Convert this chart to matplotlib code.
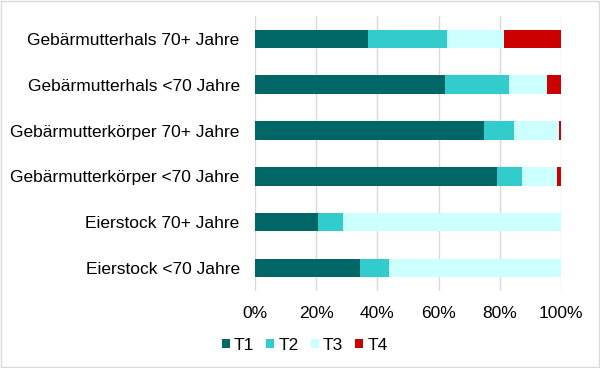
import matplotlib
matplotlib.use("Agg")
import matplotlib.pyplot as plt
import numpy as np
from matplotlib.patches import Rectangle
from matplotlib.ticker import FuncFormatter

# categories from top to bottom
categories = [
    "Gebärmutterhals 70+ Jahre",
    "Gebärmutterhals <70 Jahre",
    "Gebärmutterkörper 70+ Jahre",
    "Gebärmutterkörper <70 Jahre",
    "Eierstock 70+ Jahre",
    "Eierstock <70 Jahre",
]
t1 = [36.9, 62.2, 74.9, 79.2, 20.7, 34.2]
t2 = [26.0, 20.8, 9.7, 8.1, 8.0, 9.5]
t3 = [18.6, 12.3, 14.7, 11.3, 71.3, 56.3]
t4 = [18.5, 4.7, 0.7, 1.4, 0.0, 0.0]
series_names = ["T1", "T2", "T3", "T4"]
colors = ["#006666", "#33CCCC", "#CCFFFF", "#CC0000"]

plt.rcParams["font.family"] = ["Liberation Sans", "DejaVu Sans"]

fig = plt.figure(figsize=(6, 3.68), dpi=100)
ax = fig.add_axes([0.425, 0.209, 0.51, 0.748])

y = np.arange(len(categories))
left = np.zeros(len(categories))
for name, vals, col in zip(series_names, [t1, t2, t3, t4], colors):
    ax.barh(y, vals, left=left, height=0.4, color=col, label=name, zorder=2)
    left += np.array(vals)

ax.set_xlim(0, 100)
ax.set_ylim(len(categories) - 0.5, -0.5)
ax.set_yticks(y)
ax.set_yticklabels(categories, fontsize=12.5, color="#000000")
ax.set_xticks(np.arange(0, 101, 20))
ax.xaxis.set_major_formatter(FuncFormatter(lambda v, p: f"{int(v)}%"))
ax.tick_params(axis="x", labelsize=12.5, length=0, pad=11)
ax.tick_params(axis="y", length=0, pad=11)
ax.grid(axis="x", color="#D9D9D9", linewidth=1, zorder=0)
for s in ax.spines.values():
    s.set_visible(False)

handles, labels = ax.get_legend_handles_labels()
fig.legend(handles, labels, loc="center", bbox_to_anchor=(0.508, 0.062), ncol=4,
           frameon=False, fontsize=12.5, handlelength=0.45, handleheight=0.45,
           handletextpad=0.25, columnspacing=0.7)

fig.patches.append(Rectangle((0.001, 0.002), 0.997, 0.995, transform=fig.transFigure,
                             fill=False, edgecolor="#D9D9D9", linewidth=1))

fig.savefig("out.png", dpi=100)
